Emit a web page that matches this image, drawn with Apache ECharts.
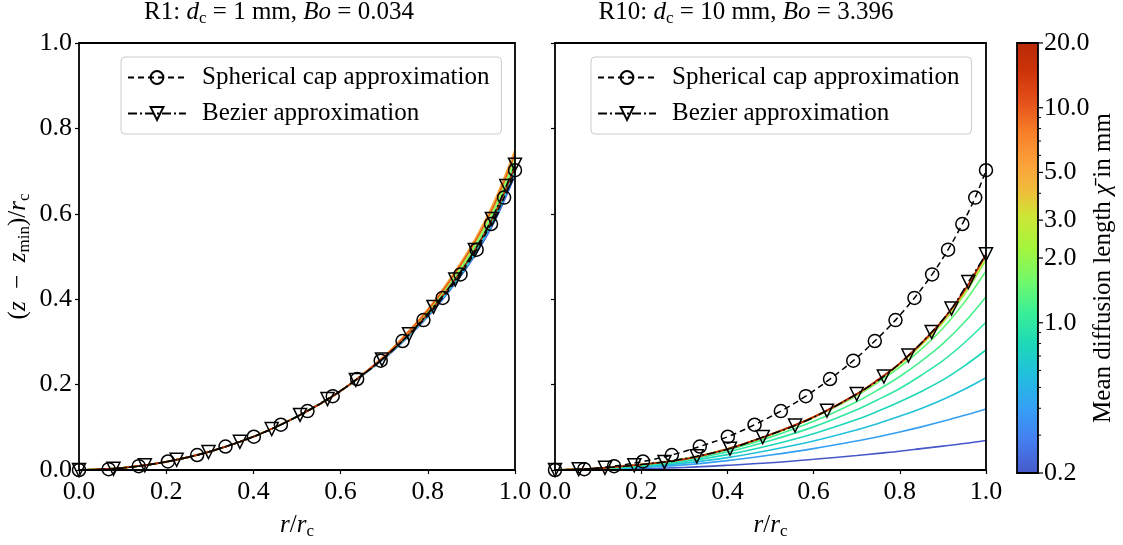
<!DOCTYPE html>
<html><head><meta charset="utf-8">
<script src="https://cdn.jsdelivr.net/npm/echarts@6/dist/echarts.min.js"></script>
<style>html,body{margin:0;padding:0;background:#fff}#c{width:1123px;height:545px}</style>
</head><body><div id="c"></div>
<script>
// ---------------- data ----------------
const xGrid = [0, 0.1, 0.2, 0.3, 0.4, 0.5, 0.6, 0.7, 0.75, 0.8, 0.85, 0.9, 0.95, 1.0];
const chiValues = [0.2, 0.4, 0.6, 0.8, 1.0, 1.2, 1.4, 2, 3, 5, 10, 20];

// R1 (left) simulated profiles, one per chi value
const leftLines = [
  [0, 0.005, 0.019, 0.043, 0.078, 0.125, 0.185, 0.261, 0.307, 0.359, 0.420, 0.490, 0.576, 0.690],
  [0, 0.005, 0.019, 0.043, 0.078, 0.125, 0.185, 0.262, 0.308, 0.361, 0.422, 0.493, 0.580, 0.695],
  [0, 0.005, 0.019, 0.043, 0.078, 0.125, 0.185, 0.262, 0.309, 0.362, 0.424, 0.496, 0.584, 0.700],
  [0, 0.005, 0.019, 0.043, 0.078, 0.125, 0.185, 0.263, 0.310, 0.364, 0.426, 0.499, 0.588, 0.705],
  [0, 0.005, 0.019, 0.043, 0.078, 0.125, 0.185, 0.263, 0.311, 0.365, 0.429, 0.502, 0.592, 0.710],
  [0, 0.005, 0.019, 0.043, 0.078, 0.125, 0.185, 0.264, 0.312, 0.367, 0.431, 0.505, 0.596, 0.715],
  [0, 0.005, 0.019, 0.043, 0.078, 0.125, 0.185, 0.264, 0.313, 0.368, 0.433, 0.508, 0.600, 0.720],
  [0, 0.005, 0.019, 0.043, 0.078, 0.125, 0.185, 0.265, 0.315, 0.371, 0.438, 0.514, 0.608, 0.730],
  [0, 0.005, 0.019, 0.043, 0.078, 0.125, 0.185, 0.266, 0.317, 0.374, 0.442, 0.520, 0.616, 0.740],
  [0, 0.005, 0.019, 0.043, 0.078, 0.125, 0.185, 0.267, 0.319, 0.377, 0.447, 0.526, 0.624, 0.750],
  [0, 0.005, 0.019, 0.043, 0.078, 0.125, 0.185, 0.266, 0.317, 0.374, 0.442, 0.520, 0.616, 0.740],
  [0, 0.005, 0.019, 0.043, 0.078, 0.125, 0.185, 0.263, 0.311, 0.365, 0.429, 0.502, 0.592, 0.710]
];

// R10 (right) simulated profiles, one per chi value
const rightLines = [
  [0, 0.001, 0.003, 0.006, 0.011, 0.017, 0.025, 0.034, 0.039, 0.044, 0.050, 0.056, 0.062, 0.069],
  [0, 0.001, 0.006, 0.012, 0.022, 0.035, 0.050, 0.068, 0.078, 0.089, 0.101, 0.114, 0.128, 0.143],
  [0, 0.002, 0.007, 0.016, 0.029, 0.047, 0.068, 0.094, 0.109, 0.126, 0.144, 0.165, 0.189, 0.216],
  [0, 0.003, 0.009, 0.020, 0.036, 0.058, 0.085, 0.118, 0.138, 0.160, 0.184, 0.211, 0.244, 0.281],
  [0, 0.003, 0.011, 0.023, 0.042, 0.069, 0.101, 0.141, 0.165, 0.191, 0.222, 0.256, 0.298, 0.346],
  [0, 0.003, 0.012, 0.025, 0.047, 0.077, 0.114, 0.160, 0.188, 0.219, 0.255, 0.296, 0.346, 0.406],
  [0, 0.004, 0.013, 0.026, 0.050, 0.082, 0.123, 0.174, 0.206, 0.241, 0.283, 0.332, 0.393, 0.466],
  [0, 0.004, 0.013, 0.026, 0.049, 0.083, 0.124, 0.177, 0.210, 0.247, 0.293, 0.345, 0.411, 0.492],
  [0, 0.004, 0.013, 0.025, 0.049, 0.082, 0.123, 0.176, 0.210, 0.248, 0.294, 0.348, 0.416, 0.500],
  [0, 0.004, 0.013, 0.025, 0.049, 0.083, 0.124, 0.177, 0.211, 0.249, 0.296, 0.350, 0.419, 0.503],
  [0, 0.004, 0.013, 0.025, 0.049, 0.083, 0.124, 0.178, 0.212, 0.250, 0.297, 0.351, 0.420, 0.505],
  [0, 0.004, 0.013, 0.025, 0.049, 0.083, 0.124, 0.178, 0.212, 0.250, 0.297, 0.351, 0.420, 0.505]
];

// spherical cap approximation (same in both panels)
const capX = [0, 0.068, 0.137, 0.204, 0.271, 0.336, 0.401, 0.463, 0.524, 0.582, 0.638, 0.692, 0.742, 0.790, 0.834, 0.875, 0.912, 0.945, 0.975, 1.0];
const capY = [0, 0.002, 0.009, 0.020, 0.035, 0.055, 0.078, 0.106, 0.138, 0.173, 0.213, 0.256, 0.302, 0.351, 0.403, 0.458, 0.516, 0.576, 0.638, 0.702];

// Bezier approximation
const bezLeftX = [0, 0.079, 0.151, 0.224, 0.297, 0.369, 0.442, 0.507, 0.570, 0.635, 0.695, 0.757, 0.813, 0.863, 0.908, 0.947, 0.980, 1.0];
const bezLeftY = [0, 0.003, 0.011, 0.024, 0.042, 0.066, 0.096, 0.129, 0.166, 0.211, 0.259, 0.318, 0.382, 0.446, 0.515, 0.588, 0.665, 0.715];
const bezRightX = [0, 0.055, 0.116, 0.184, 0.254, 0.329, 0.406, 0.482, 0.557, 0.631, 0.700, 0.763, 0.820, 0.874, 0.920, 0.959, 1.0];
const bezRightY = [0, 0.002, 0.005, 0.011, 0.019, 0.032, 0.050, 0.077, 0.104, 0.139, 0.178, 0.219, 0.268, 0.323, 0.378, 0.440, 0.505];

// colorbar ticks
const cbMajor = [0.2, 1, 2, 3, 5, 10, 20];
const cbMajorLabels = ['0.2', '1.0', '2.0', '3.0', '5.0', '10.0', '20.0'];
const cbMinor = [0.3, 0.4, 0.5, 0.6, 0.7, 0.8, 0.9, 4, 6, 7, 8, 9];

const titleLeft = '{n|R1: }{i|d}{s|c}{n| = 1 mm, }{i|Bo}{n| = 0.034}';
const titleRight = '{n|R10: }{i|d}{s|c}{n| = 10 mm, }{i|Bo}{n| = 3.396}';
const legendNames = ['Spherical cap approximation', 'Bezier approximation'];

// ---------------- styling ----------------
const F = "'Liberation Serif', 'DejaVu Serif', serif";
const FS = 25;
const TS = 26;
const rich = {
  n: {fontFamily: F, fontSize: FS, color: '#000'},
  i: {fontFamily: F, fontSize: FS, fontStyle: 'italic', color: '#000'},
  s: {fontFamily: F, fontSize: 17, color: '#000', padding: [13, 0, 0, 0]}
};
const cbStops = [
  [0, '#4658c8'], [0.078, '#457ef0'], [0.152, '#35a0f4'], [0.226, '#22bde0'], [0.3, '#1dd8b8'],
  [0.374, '#3aef96'], [0.448, '#72f96a'], [0.522, '#a4f53c'], [0.596, '#cde636'], [0.656, '#f0bc3a'],
  [0.715, '#fba23a'], [0.789, '#f8802a'], [0.863, '#e4501a'], [0.937, '#cc3208'], [1, '#b82a08']
];
function hex2rgb(h) { return [parseInt(h.substr(1,2),16), parseInt(h.substr(3,2),16), parseInt(h.substr(5,2),16)]; }
function colorAt(f) {
  f = Math.max(0, Math.min(1, f));
  for (let k = 1; k < cbStops.length; k++) {
    if (f <= cbStops[k][0]) {
      const a = cbStops[k-1], b = cbStops[k];
      const t = (f - a[0]) / (b[0] - a[0]);
      const ca = hex2rgb(a[1]), cb = hex2rgb(b[1]);
      return 'rgb(' + ca.map((v, j) => Math.round(v + (cb[j] - v) * t)).join(',') + ')';
    }
  }
  return cbStops[cbStops.length-1][1];
}
const lmin = Math.log10(0.2), lmax = Math.log10(20);
function chiColor(c) { return colorAt((Math.log10(c) - lmin) / (lmax - lmin)); }

const series = [];
chiValues.forEach((c, k) => {
  [[0, leftLines[k]], [1, rightLines[k]]].forEach(([gi, arr]) => {
    series.push({
      type: 'line', xAxisIndex: gi, yAxisIndex: gi, name: 'chi' + c + '_' + gi,
      data: xGrid.map((x, i) => [x, arr[i]]),
      showSymbol: false, smooth: 0.35,
      lineStyle: {color: chiColor(c), width: 1.6}, itemStyle: {color: chiColor(c)},
      z: 2 + k * 0.01, silent: true
    });
  });
});
const markerItem = {color: 'rgba(0,0,0,0)', borderColor: '#000', borderWidth: 1.5};
[0, 1].forEach(gi => {
  series.push({
    type: 'line', xAxisIndex: gi, yAxisIndex: gi, name: legendNames[0],
    data: capX.map((x, i) => [x, capY[i]]),
    symbol: 'circle', symbolSize: 13, showAllSymbol: true, smooth: 0.35,
    lineStyle: {color: '#000', width: 1.5, type: [6, 4]}, itemStyle: markerItem,
    z: 5, silent: true
  });
  const bx = gi === 0 ? bezLeftX : bezRightX, by = gi === 0 ? bezLeftY : bezRightY;
  series.push({
    type: 'line', xAxisIndex: gi, yAxisIndex: gi, name: legendNames[1],
    data: bx.map((x, i) => [x, by[i]]),
    symbol: 'triangle', symbolRotate: 180, symbolSize: 13, showAllSymbol: true, smooth: 0.35,
    lineStyle: {color: '#000', width: 1.5, type: [9, 3, 2, 3]}, itemStyle: markerItem,
    z: 6, silent: true
  });
});
// colorbar
series.push({
  type: 'custom', xAxisIndex: 2, yAxisIndex: 2, data: [[0.5, 1]], silent: true, clip: false, z: 3,
  renderItem: function (params, api) {
    const p0 = api.coord([0, 0.2]), p1 = api.coord([1, 20]);
    return {type: 'rect', shape: {x: p0[0], y: p1[1], width: p1[0] - p0[0], height: p0[1] - p1[1]},
      style: {fill: new echarts.graphic.LinearGradient(0, 1, 0, 0, cbStops.map(s => ({offset: s[0], color: s[1]}))),
              stroke: '#000', lineWidth: 1.8}};
  }
});
series.push({
  type: 'custom', xAxisIndex: 2, yAxisIndex: 2, data: cbMajor.map(v => [1, v]), silent: true, clip: false, z: 4,
  renderItem: function (params, api) {
    const p = api.coord([1, api.value(1)]);
    return {type: 'group', children: [
      {type: 'line', shape: {x1: p[0], y1: p[1], x2: p[0] + 5, y2: p[1]}, style: {stroke: '#000', lineWidth: 1.2}},
      {type: 'text', x: p[0] + 6, y: p[1], style: {text: cbMajorLabels[params.dataIndex], fill: '#000',
        font: TS + 'px ' + F, align: 'left', verticalAlign: 'middle', textAlign: 'left', textVerticalAlign: 'middle'}}
    ]};
  }
});
series.push({
  type: 'custom', xAxisIndex: 2, yAxisIndex: 2, data: cbMinor.map(v => [1, v]), silent: true, clip: false, z: 4,
  renderItem: function (params, api) {
    const p = api.coord([1, api.value(1)]);
    return {type: 'line', shape: {x1: p[0], y1: p[1], x2: p[0] + 3, y2: p[1]}, style: {stroke: '#000', lineWidth: 1}};
  }
});

function xAx(gi) {
  return {type: 'value', gridIndex: gi, min: 0, max: 1, interval: 0.2,
    axisLine: {show: false}, splitLine: {show: false},
    axisTick: {show: true, inside: false, length: 4, lineStyle: {color: '#000', width: 1.2}},
    axisLabel: {formatter: v => v.toFixed(1), fontFamily: F, fontSize: TS, color: '#000', margin: 9},
    name: '{i|r}{n|/}{i|r}{s|c}', nameLocation: 'middle', nameGap: 40,
    nameTextStyle: {rich: rich}};
}
function yAx(gi) {
  const o = {type: 'value', gridIndex: gi, min: 0, max: 1, interval: 0.2,
    axisLine: {show: false}, splitLine: {show: false},
    axisTick: {show: true, inside: false, length: 4, lineStyle: {color: '#000', width: 1.2}},
    axisLabel: {show: gi === 0, formatter: v => v.toFixed(1), fontFamily: F, fontSize: TS, color: '#000', margin: 7}};
  if (gi === 0) {
    o.name = '{n|(}{i|z}{n|\u2002−\u2002}{i|z}{s|min}{n|)/}{i|r}{s|c}';
    o.nameLocation = 'middle'; o.nameGap = 46; o.nameTextStyle = {rich: rich};
  }
  return o;
}

const legendCommon = {
  orient: 'vertical', top: 57, data: legendNames, selectedMode: false,
  itemWidth: 58, itemHeight: 16, itemGap: 11,
  textStyle: {fontFamily: F, fontSize: FS, color: '#000', lineHeight: 24, padding: [0, 0, 0, 11]},
  padding: [8, 12, 8, 6], borderColor: '#cccccc', borderWidth: 1, borderRadius: 4,
  backgroundColor: 'rgba(255,255,255,0.8)'
};

const chart = echarts.init(document.getElementById('c'), null, {renderer: 'canvas'});
chart.setOption({
  animation: false,
  backgroundColor: '#fff',
  grid: [
    {left: 79, top: 43, width: 436, height: 430, show: true, borderColor: '#000', borderWidth: 1.8, backgroundColor: 'transparent', z: 20},
    {left: 555, top: 43, width: 431, height: 430, show: true, borderColor: '#000', borderWidth: 1.8, backgroundColor: 'transparent', z: 20},
    {left: 1017, top: 43, width: 21, height: 430, show: false}
  ],
  xAxis: [xAx(0), xAx(1), {type: 'value', gridIndex: 2, min: 0, max: 1, show: false}],
  yAxis: [yAx(0), yAx(1), {type: 'log', logBase: 10, gridIndex: 2, min: 0.2, max: 20, show: false}],
  legend: [Object.assign({left: 121}, legendCommon), Object.assign({left: 591}, legendCommon)],
  graphic: [
    {type: 'text', x: 279, y: 12, style: {text: titleLeft, rich: rich, align: 'center', verticalAlign: 'middle'}},
    {type: 'text', x: 746, y: 12, style: {text: titleRight, rich: rich, align: 'center', verticalAlign: 'middle'}},
    {type: 'text', x: 1103, y: 268, rotation: Math.PI / 2,
      style: {text: '{n|Mean diffusion length }{i|χ̄}{n| in mm}', rich: rich, align: 'center', verticalAlign: 'middle'}}
  ],
  series: series
});
</script>
</body></html>
